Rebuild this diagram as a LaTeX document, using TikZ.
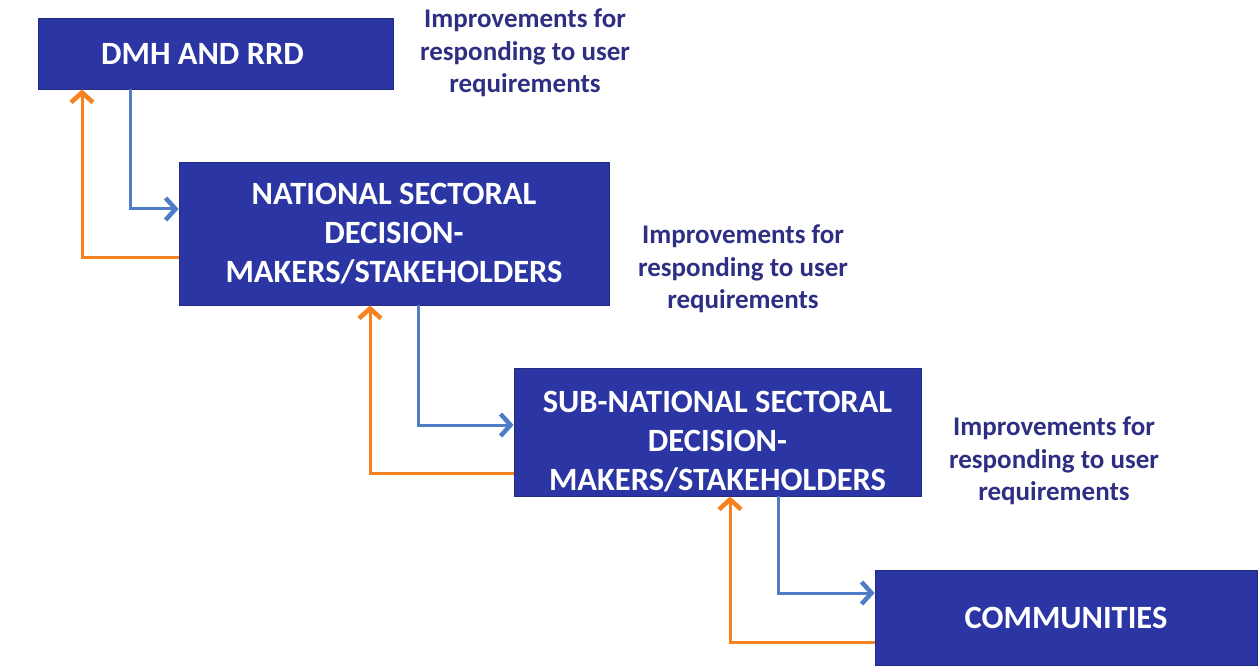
\documentclass[tikz,border=0pt]{standalone}
\usepackage{fontspec}
\setmainfont{Carlito}
\usetikzlibrary{arrows.meta}
\definecolor{boxblue}{HTML}{2B35A3}
\definecolor{labelblue}{HTML}{2E2F82}
\definecolor{flowblue}{HTML}{4F7CC6}
\definecolor{floworange}{HTML}{F5821F}
\begin{document}
\begin{tikzpicture}[x=1pt,y=-1pt,
  level/.style={fill=boxblue, draw=boxblue!80!black, line width=0.8pt, text=white,
    font=\fontsize{32.5}{39}\selectfont\bfseries, align=center, inner sep=0pt},
  note/.style={text=labelblue, font=\fontsize{27}{32.5}\selectfont\bfseries, align=center},
  down/.style={draw=flowblue, line width=3pt,
    -{Straight Barb[length=10pt,width=22pt,line width=4.5pt]}},
  up/.style={draw=floworange, line width=3pt,
    -{Straight Barb[length=10pt,width=22pt,line width=4.5pt]}}]
\useasboundingbox (0,0) rectangle (1260,668);

% the four levels
\node[level, minimum width=355pt, minimum height=71pt] (dmh) at (215.5,53.5)
  {\hspace*{-26pt}DMH AND RRD};
\node[level, minimum width=430pt, minimum height=143pt] (nat) at (394,233.5)
  {NATIONAL SECTORAL\\DECISION-\\MAKERS/STAKEHOLDERS};
\node[level, minimum width=407pt, minimum height=128pt] (sub) at (717.5,432)
  {\rule{0pt}{40pt}SUB-NATIONAL SECTORAL\\DECISION-\\MAKERS/STAKEHOLDERS};
\node[level, minimum width=382pt, minimum height=95pt] (com) at (1066,617.5) {COMMUNITIES};

% feedback notes
\node[note] (n1) at (525,53) {Improvements for\\responding to user\\requirements};
\node[note] (n2) at (743,269) {Improvements for\\responding to user\\requirements};
\node[note] (n3) at (1054,461) {Improvements for\\responding to user\\requirements};

% bends of the connectors
\coordinate (b1) at (130,209);
\coordinate (o1) at (82,258);
\coordinate (b2) at (418,425);
\coordinate (o2) at (370,473);
\coordinate (b3) at (778,593);
\coordinate (o3) at (730,642);

% downward flow (blue) and feedback (orange)
\draw[down] (dmh.south -| b1) |- (nat.west |- b1);
\draw[up] (nat.west |- o1) -| (dmh.south -| o1);
\draw[down] (nat.south -| b2) |- (sub.west |- b2);
\draw[up] (sub.west |- o2) -| (nat.south -| o2);
\draw[down] (sub.south -| b3) |- (com.west |- b3);
\draw[up] (com.west |- o3) -| (sub.south -| o3);
\end{tikzpicture}
\end{document}
